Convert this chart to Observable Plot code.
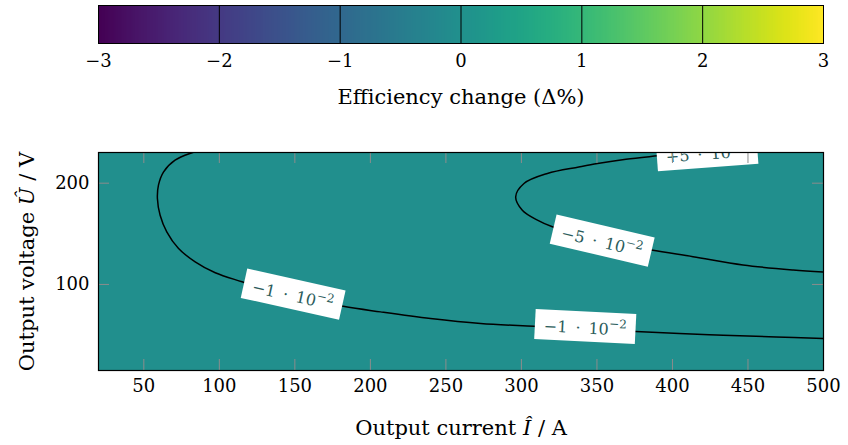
<!DOCTYPE html>
<html>
<head>
<meta charset="utf-8">
<script src="https://cdn.jsdelivr.net/npm/d3@7"></script>
<script src="https://cdn.jsdelivr.net/npm/@observablehq/plot@0.6"></script>
<style>
  html, body { margin: 0; padding: 0; background: white; }
  svg { display: block; }
</style>
</head>
<body>
<div id="chart"></div>
<script>
// ---------- data ----------
const colorbarTicks = [-3, -2, -1, 0, 1, 2, 3];
const colorbarTitle = "Efficiency change (Δ%)";

const xTicks = [50, 100, 150, 200, 250, 300, 350, 400, 450, 500];
const yTicks = [100, 200];
const xTitle = "Output current Î / A";
const yTitle = "Output voltage Û / V";

// uniform background efficiency change (Δ%)
const background = [{I1: 20, I2: 500, U1: 15, U2: 230.3, change: -0.03}];

// contour at level -1·10^-2 : [current I (A), voltage U (V)]
const contourMinus1e2 = [
  [92, 235], [82.9, 230.6], [70.7, 222.7], [63, 211], [59.7, 198], [59, 184.9],
  [60.8, 168.4], [65.2, 152], [73, 135.5], [84, 122.3], [97.3, 111.5], [115, 102.6],
  [130, 95.5], [150, 88.3], [182, 78.4], [206.7, 72.9], [239.8, 66.3], [273, 61.4],
  [308.3, 58.7], [342, 56.3], [375.8, 53.6], [424.4, 50.4], [468.6, 48.1], [500, 46.5]
];
// contour at level -5·10^-2
const contourMinus5e2 = [
  [445, 232.2], [425, 230.8], [405, 229.2], [390.2, 227], [369.2, 223.7], [350.4, 219.5],
  [338, 216], [317.2, 209.6], [301.7, 199.7], [296.2, 186.5], [300.6, 173.3],
  [310.6, 163.5], [320.5, 156.9], [351, 144], [386, 133.9], [413.6, 127.4],
  [446.7, 119.2], [479.9, 114.3], [500, 112.3]
];

// contour labels
const labelI = [148.6, 342.2, 353.2, 423];
const labelU = [88.5, 56.6, 141.5, 228.5];
const labelMantissa = ["−1\u2002·\u200210", "−1\u2002·\u200210", "−5\u2002·\u200210", "+5\u2002·\u200210"];
const labelExponent = ["−2", "−2", "−2", "−2"];
const labelAngle = [12.6, 2.9, 13.2, -4.3];

const labels = labelI.map((I, i) => ({I, U: labelU[i], text: labelMantissa[i], angle: labelAngle[i]}));
const toPts = (arr) => arr.map(([I, U]) => ({I, U}));

// ---------- plots ----------
const FONT = "DejaVu Serif";
const colorOpts = {type: "linear", scheme: "viridis", domain: [-3, 3]};

const colorbar = Plot.plot({
  width: 848, height: 120,
  marginTop: 5, marginBottom: 77, marginLeft: 98, marginRight: 25,
  style: {fontFamily: FONT, fontSize: "18px", color: "black", background: "white"},
  x: {domain: [-3, 3], ticks: colorbarTicks, tickFormat: "d", tickSize: 0, tickPadding: 11, label: null},
  y: {domain: [0, 1], axis: null},
  color: colorOpts,
  marks: [
    Plot.raster({x1: -3, x2: 3, y1: 0, y2: 1, width: 600, height: 2, fill: (x, y) => x}),
    Plot.ruleX(colorbarTicks.slice(1, -1), {stroke: "black", strokeWidth: 1}),
    Plot.frame({stroke: "black", strokeWidth: 1}),
    Plot.text([colorbarTitle], {text: d => d, frameAnchor: "bottom", textAnchor: "middle", dy: 60, fontSize: 21})
  ]
});

const FRAME_W = 848 - 98 - 25;
const FRAME_H = 325 - 32 - 75;
const TICK = 11;
const tickColor = "#8c8c8c";

const main = Plot.plot({
  width: 848, height: 325,
  marginTop: 32, marginBottom: 75, marginLeft: 98, marginRight: 25,
  style: {fontFamily: FONT, fontSize: "18px", color: "black", background: "white"},
  x: {domain: [20, 500], ticks: xTicks, tickFormat: "d", tickSize: 0, tickPadding: 9, label: null},
  y: {domain: [15, 230.3], ticks: yTicks, tickFormat: "d", tickSize: 0, tickPadding: 9, label: null},
  color: colorOpts,
  marks: [
    Plot.rect(background, {x1: "I1", x2: "I2", y1: "U1", y2: "U2", fill: "change"}),
    Plot.line(toPts(contourMinus1e2), {x: "I", y: "U", curve: "catmull-rom", stroke: "black", strokeWidth: 1.5, clip: true}),
    Plot.line(toPts(contourMinus5e2), {x: "I", y: "U", curve: "catmull-rom", stroke: "black", strokeWidth: 1.5, clip: true}),
    Plot.text(labels, {x: "I", y: "U", text: "text", rotate: "angle", fill: "#2b5c5b", fontSize: 16, clip: true, ariaDescription: "contour labels"}),
    Plot.ruleX(xTicks, {insetTop: FRAME_H - TICK, stroke: tickColor}),
    Plot.ruleX(xTicks, {insetBottom: FRAME_H - TICK, stroke: tickColor}),
    Plot.ruleY(yTicks, {insetRight: FRAME_W - TICK, stroke: tickColor}),
    Plot.ruleY(yTicks, {insetLeft: FRAME_W - TICK, stroke: tickColor}),
    Plot.frame({stroke: "black", strokeWidth: 1.2}),
    Plot.text([xTitle], {text: d => d, frameAnchor: "bottom", textAnchor: "middle", dy: 64, fontSize: 21}),
    Plot.text([yTitle], {text: d => d, frameAnchor: "left", textAnchor: "middle", dx: -71, rotate: -90, fontSize: 21})
  ]
});

const host = document.getElementById("chart");
host.appendChild(colorbar);
host.appendChild(main);

// ---------- post-processing: italic math letters, label boxes ----------
const NS = "http://www.w3.org/2000/svg";
[colorbar, main].forEach(svg => {
  svg.querySelectorAll("text").forEach(t => {
    const s = t.textContent;
    const m = s.match(/[ÎÛ]/);
    if (!m || t.children.length) return;
    const k = s.indexOf(m[0]);
    t.textContent = "";
    const a = document.createElementNS(NS, "tspan"); a.textContent = s.slice(0, k);
    const b = document.createElementNS(NS, "tspan"); b.textContent = m[0]; b.setAttribute("font-style", "italic");
    const c = document.createElementNS(NS, "tspan"); c.textContent = s.slice(k + 1);
    t.appendChild(a); t.appendChild(b); t.appendChild(c);
  });
});

let g = main.querySelector('g[aria-description="contour labels"]');
if (!g) {
  main.querySelectorAll("g").forEach(el => {
    const ts = el.querySelectorAll(":scope > text");
    if (ts.length === labelMantissa.length && ts[0].textContent === labelMantissa[0]) g = el;
  });
}
if (g) {
  g.querySelectorAll("text").forEach((t, i) => {
    const sup = document.createElementNS(NS, "tspan");
    sup.setAttribute("dy", "-7");
    sup.style.fontSize = "12px";
    sup.textContent = labelExponent[i];
    t.appendChild(sup);
    const bb = t.getBBox();
    const padX = 9, padY = 4;
    const r = document.createElementNS(NS, "rect");
    r.setAttribute("x", bb.x - padX);
    r.setAttribute("y", bb.y - padY);
    r.setAttribute("width", bb.width + 2 * padX);
    r.setAttribute("height", bb.height + 2 * padY);
    r.setAttribute("fill", "white");
    r.setAttribute("stroke", "none");
    const tr = t.getAttribute("transform");
    if (tr) r.setAttribute("transform", tr);
    t.parentNode.insertBefore(r, t);
  });
}
</script>
</body>
</html>
